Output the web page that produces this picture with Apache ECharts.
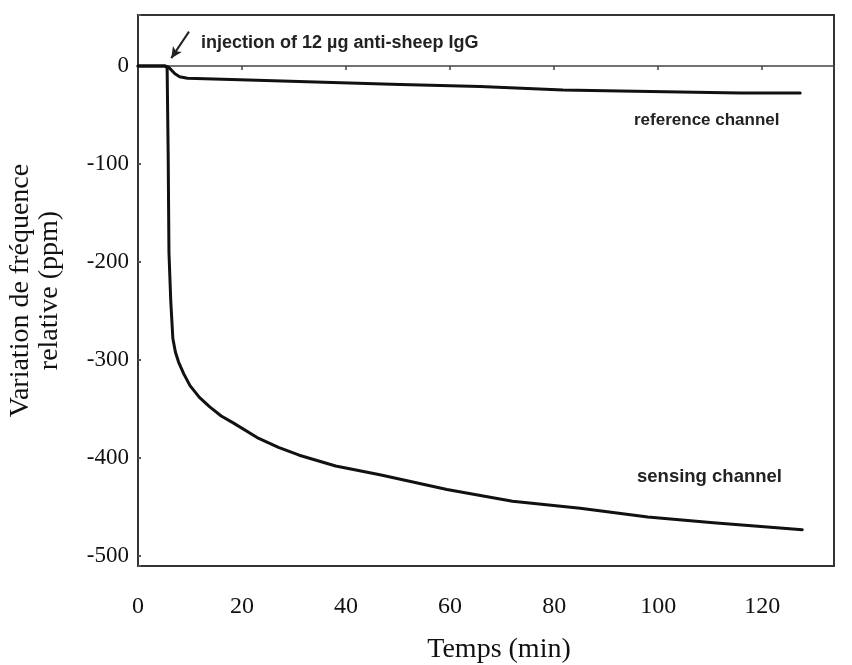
<!DOCTYPE html>
<html>
<head>
<meta charset="utf-8">
<script src="https://cdn.jsdelivr.net/npm/echarts@6/dist/echarts.min.js"></script>
<style>
  html, body { margin: 0; padding: 0; background: #fff; }
  #main { width: 852px; height: 665px; }
</style>
</head>
<body>
<div id="main"></div>
<script>
  // temps (min) et variation (ppm)
  var sensingTime = [0, 5.2, 5.6, 5.8, 5.95, 6.3, 6.7, 7.2, 7.8, 8.8, 10, 11.8, 13.85, 16, 18.3, 22.9, 27, 31, 38, 46.5, 59.4, 72, 85, 98, 110.6, 127.7];
  var sensingValues = [0, 0, -2, -90, -190, -240, -278, -292, -302, -314, -326, -338, -348, -357, -364, -379, -389, -397, -408, -417, -432, -444, -451, -460, -466, -473];

  var referenceTime = [0, 5.2, 5.8, 6.4, 7.1, 8.0, 9.5, 19.6, 32.5, 50.4, 65.8, 81.7, 92.7, 104.2, 115.8, 127.3];
  var referenceValues = [0, 0, -1, -4, -8, -11, -12.5, -14, -16, -19, -21, -24.5, -25.5, -26.5, -27.5, -27.5];

  // flèche d'injection (temps, ppm)
  var arrowFrom = [9.8, 35];
  var arrowTo = [6.4, 8];

  var xTicks = [0, 20, 40, 60, 80, 100, 120];
  var yTicks = [0, -100, -200, -300, -400, -500];

  var myChart = echarts.init(document.getElementById('main'));

  function pairs(t, v) {
    var arr = [];
    for (var i = 0; i < t.length; i++) {
      arr.push([t[i], v[i]]);
    }
    return arr;
  }

  var serif = 'Liberation Serif';

  var option = {
    animation: false,
    backgroundColor: '#fff',
    grid: {
      left: 138,
      top: 15,
      right: 18,
      bottom: 99,
      outerBoundsMode: 'none',
      show: true,
      borderColor: '#333',
      borderWidth: 2
    },
    xAxis: [{
      type: 'value',
      min: 0,
      max: 133.8,
      interval: 20,
      position: 'bottom',
      name: 'Temps (min)',
      nameLocation: 'middle',
      nameGap: 70,
      nameTextStyle: { fontFamily: serif, fontSize: 28, color: '#111', padding: [0, 0, 0, 26] },
      axisLine: { show: false, onZero: false },
      axisTick: { show: false },
      splitLine: { show: false },
      axisLabel: {
        fontFamily: serif,
        fontSize: 24,
        color: '#111',
        margin: 29,
        formatter: function (v) {
          return xTicks.indexOf(v) >= 0 ? String(v) : '';
        }
      }
    }, {
      // ancien axe des temps, tracé à 0 ppm
      type: 'value',
      min: 0,
      max: 133.8,
      interval: 20,
      position: 'top',
      axisLine: { show: true, onZero: true, lineStyle: { color: '#444', width: 1.5 } },
      axisTick: { show: true, inside: true, length: 4, lineStyle: { color: '#444', width: 1.5 } },
      axisLabel: { show: false },
      splitLine: { show: false }
    }],
    yAxis: {
      type: 'value',
      min: -510,
      max: 52,
      name: 'Variation de fréquence\nrelative (ppm)',
      nameLocation: 'middle',
      nameRotate: 90,
      nameGap: 74,
      nameTextStyle: { fontFamily: serif, fontSize: 28, color: '#111', lineHeight: 29 },
      axisLine: { show: false },
      axisTick: { show: true, inside: true, length: 3, lineStyle: { color: '#555', width: 2 } },
      splitLine: { show: false },
      axisLabel: {
        fontFamily: serif,
        fontSize: 23,
        color: '#111',
        margin: 9,
        formatter: function (v) {
          return yTicks.indexOf(v) >= 0 ? String(v) : '';
        }
      }
    },
    series: [{
      name: 'sensing channel',
      type: 'line',
      symbol: 'none',
      lineStyle: { color: '#111', width: 3, join: 'round', cap: 'round' },
      data: pairs(sensingTime, sensingValues)
    }, {
      name: 'reference channel',
      type: 'line',
      symbol: 'none',
      lineStyle: { color: '#111', width: 3, join: 'round', cap: 'round' },
      data: pairs(referenceTime, referenceValues),
      markLine: {
        silent: true,
        symbol: ['none', 'arrow'],
        symbolSize: [8, 11],
        label: { show: false },
        lineStyle: { color: '#222', width: 2, type: 'solid' },
        data: [[{ coord: arrowFrom }, { coord: arrowTo }]]
      }
    }],
    graphic: [{
      type: 'text',
      left: 201,
      top: 34,
      style: {
        text: 'injection of 12 µg anti-sheep IgG',
        font: 'bold 18px "Liberation Sans"',
        fill: '#222'
      }
    }, {
      type: 'text',
      left: 634,
      top: 112,
      style: {
        text: 'reference channel',
        font: 'bold 17px "Liberation Sans"',
        fill: '#222'
      }
    }, {
      type: 'text',
      left: 637,
      top: 467,
      style: {
        text: 'sensing channel',
        font: 'bold 18.5px "Liberation Sans"',
        fill: '#222'
      }
    }]
  };

  myChart.setOption(option);
</script>
</body>
</html>
